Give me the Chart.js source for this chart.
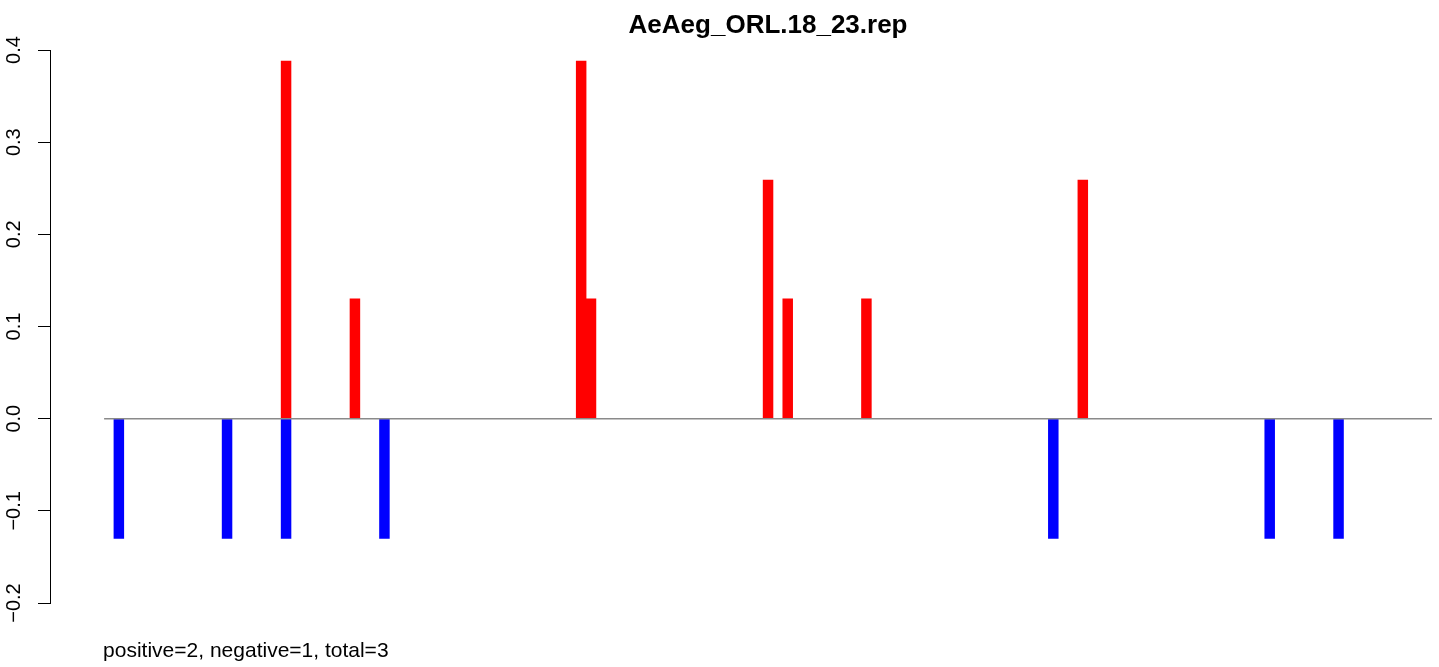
<!DOCTYPE html>
<html>
<head>
<meta charset="utf-8">
<script src="https://cdn.jsdelivr.net/npm/chart.js@4/dist/chart.umd.min.js"></script>
<style>
  html, body { margin: 0; padding: 0; background: #fff; }
  #wrap { width: 1439px; height: 667px; }
</style>
</head>
<body>
<div id="wrap"><canvas id="repChart" width="1439" height="667"></canvas></div>
<script>
// bar slots (0-based position along the sequence) and their heights
const posIndex = [18, 25, 48, 49, 67, 69, 77, 99];
const posValue = [0.388, 0.13, 0.388, 0.13, 0.259, 0.13, 0.13, 0.259];
const negIndex = [1, 12, 18, 28, 96, 118, 125];
const negValue = [-0.13, -0.13, -0.13, -0.13, -0.13, -0.13, -0.13];
const slotCount = 135;
const yTicks = [-0.2, -0.1, 0.0, 0.1, 0.2, 0.3, 0.4];
const titleText = "AeAeg_ORL.18_23.rep";
const footText = "positive=2, negative=1, total=3";

const FONT = "'Liberation Sans', Arial, Helvetica, sans-serif";

// title + footnote, placed like R's plot region (first slot edge -> right edge)
const textPlugin = {
    id: "rText",
    afterDraw(chart) {
        const ctx = chart.ctx;
        const x = chart.scales.x;
        const left = x.getPixelForValue(-0.5);
        const right = chart.chartArea.right;
        ctx.save();
        ctx.fillStyle = "#000";
        ctx.textBaseline = "alphabetic";
        ctx.font = "bold 26px " + FONT;
        ctx.textAlign = "center";
        ctx.fillText(titleText, (left + right) / 2, 33);
        ctx.font = "21px " + FONT;
        ctx.textAlign = "left";
        ctx.fillText(footText, left - 1, 657);
        ctx.restore();
    }
};

new Chart(document.getElementById("repChart"), {
    data: {
        datasets: [
            {
                type: "line",
                data: [{ x: -0.5, y: 0 }, { x: slotCount - 0.5, y: 0 }],
                borderColor: "#8a8a8a",
                borderWidth: 1.5,
                pointRadius: 0,
                order: 0
            },
            {
                type: "bar",
                data: posIndex.map((p, i) => ({ x: p, y: posValue[i] })),
                backgroundColor: "#ff0000",
                borderWidth: 0,
                grouped: false,
                barPercentage: 1,
                categoryPercentage: 1,
                order: 1
            },
            {
                type: "bar",
                data: negIndex.map((p, i) => ({ x: p, y: negValue[i] })),
                backgroundColor: "#0000ff",
                borderWidth: 0,
                grouped: false,
                barPercentage: 1,
                categoryPercentage: 1,
                order: 1
            }
        ]
    },
    options: {
        responsive: false,
        animation: false,
        events: [],
        layout: { padding: { left: 0, right: 7, top: 50, bottom: 64 } },
        plugins: {
            legend: { display: false },
            tooltip: { enabled: false },
            title: { display: false }
        },
        scales: {
            x: {
                type: "linear",
                display: false,
                offset: false,
                bounds: "data",
                min: -6,
                max: slotCount - 0.5,
                ticks: { stepSize: 20 }
            },
            y: {
                type: "linear",
                min: yTicks[0],
                max: yTicks[yTicks.length - 1],
                afterFit: (scale) => { scale.width = 50; },
                afterBuildTicks: (scale) => { scale.ticks = yTicks.map(v => ({ value: v })); },
                border: { display: true, color: "#000", width: 1 },
                grid: {
                    display: true,
                    drawOnChartArea: false,
                    drawTicks: true,
                    tickLength: 12,
                    color: "#000",
                    lineWidth: 1
                },
                ticks: {
                    minRotation: 90,
                    maxRotation: 90,
                    crossAlign: "center",
                    padding: 4,
                    color: "#000",
                    font: { family: FONT, size: 20 },
                    callback: (v) => Number(v).toFixed(1).replace("-", "\u2212")
                }
            }
        }
    },
    plugins: [textPlugin]
});
</script>
</body>
</html>
